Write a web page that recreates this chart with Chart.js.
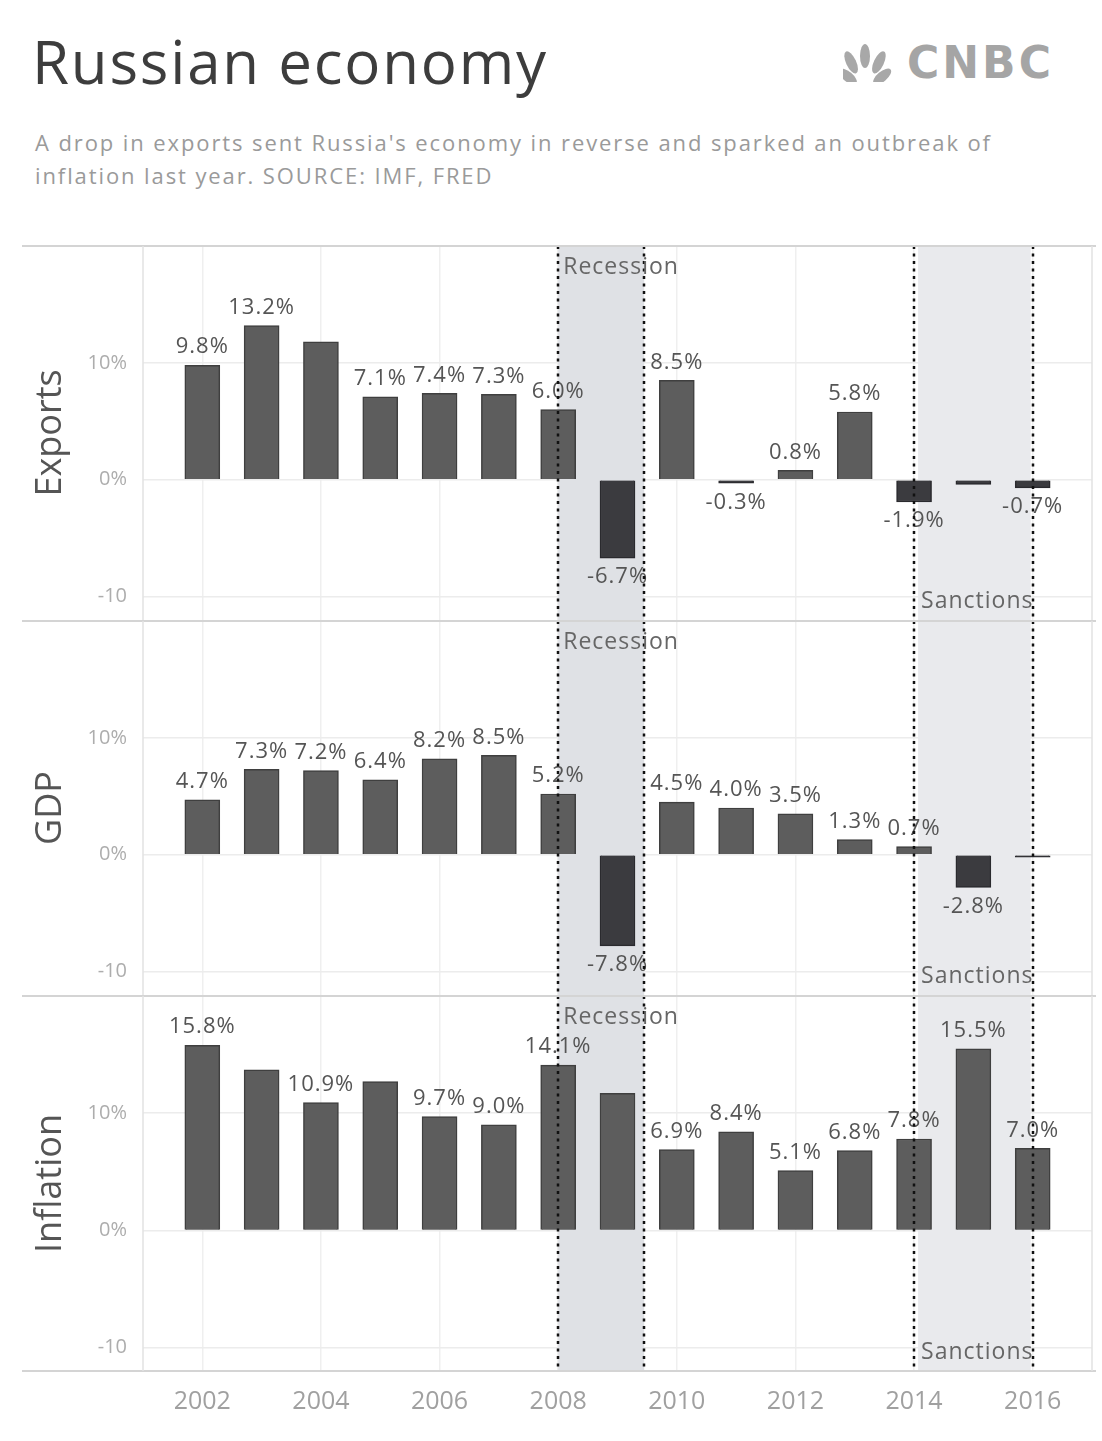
<!DOCTYPE html>
<html>
<head>
<meta charset="utf-8">
<script src="https://cdn.jsdelivr.net/npm/chart.js@4.4.0/dist/chart.umd.min.js"></script>
<style>
  body { margin: 0; background: #fff; width: 1102px; height: 1441px; position: relative; overflow: hidden; font-family: "Open Sans", sans-serif; }
  #title { position: absolute; left: 32px; top: 20px; font-size: 60px; color: #3d3d3d; letter-spacing: 1.8px; }
  #sub { position: absolute; left: 35px; top: 126px; width: 1060px; font-size: 22px; line-height: 33px; color: #9a9a9a; letter-spacing: 1.9px; white-space: nowrap; }
  #logo { position: absolute; left: 843px; top: 38px; height: 48px; display: flex; align-items: center; }
  #logo span { font-family: "DejaVu Sans", sans-serif; font-weight: bold; font-size: 44px; color: #a5a5a5; letter-spacing: 3px; margin-left: 8px; }
  canvas { position: absolute; left: 0; top: 0; }
</style>
</head>
<body>
<div id="title">Russian economy</div>
<div id="logo">
  <svg width="56" height="40" viewBox="0 0 56 40">
    <g fill="#a8a8a8">
      <ellipse cx="12" cy="22" rx="5" ry="11" transform="rotate(-50 22 36)"/>
      <ellipse cx="16" cy="16" rx="5" ry="12" transform="rotate(-25 22 36)"/>
      <ellipse cx="22" cy="14" rx="5" ry="12"/>
      <ellipse cx="28" cy="16" rx="5" ry="12" transform="rotate(25 22 36)"/>
      <ellipse cx="32" cy="22" rx="5" ry="11" transform="rotate(50 22 36)"/>
    </g>
  </svg>
  <span>CNBC</span>
</div>
<div id="sub">A drop in exports sent Russia's economy in reverse and sparked an outbreak of<br>inflation last year. SOURCE: IMF, FRED</div>

<canvas id="c1" width="1102" height="398" data-top="246"></canvas>
<canvas id="c2" width="1102" height="398" data-top="621"></canvas>
<canvas id="c3" width="1102" height="443" data-top="996"></canvas>

<script>
// 데이터 (연도별 증감률, %)
const years = [2002, 2003, 2004, 2005, 2006, 2007, 2008, 2009, 2010, 2011, 2012, 2013, 2014, 2015, 2016];
const exportsVals = [9.8, 13.2, 11.8, 7.1, 7.4, 7.3, 6.0, -6.7, 8.5, -0.3, 0.8, 5.8, -1.9, -0.4, -0.7];
const exportsLabels = ["9.8%", "13.2%", null, "7.1%", "7.4%", "7.3%", "6.0%", "-6.7%", "8.5%", "-0.3%", "0.8%", "5.8%", "-1.9%", null, "-0.7%"];
const gdpVals = [4.7, 7.3, 7.2, 6.4, 8.2, 8.5, 5.2, -7.8, 4.5, 4.0, 3.5, 1.3, 0.7, -2.8, -0.2];
const gdpLabels = ["4.7%", "7.3%", "7.2%", "6.4%", "8.2%", "8.5%", "5.2%", "-7.8%", "4.5%", "4.0%", "3.5%", "1.3%", "0.7%", "-2.8%", null];
const inflationVals = [15.8, 13.7, 10.9, 12.7, 9.7, 9.0, 14.1, 11.7, 6.9, 8.4, 5.1, 6.8, 7.8, 15.5, 7.0];
const inflationLabels = ["15.8%", null, "10.9%", null, "9.7%", "9.0%", "14.1%", null, "6.9%", "8.4%", "5.1%", "6.8%", "7.8%", "15.5%", "7.0%"];
const yTicks = [-10, 0, 10];
const xTicks = [2002, 2004, 2006, 2008, 2010, 2012, 2014, 2016];

// 음영 구간
const recession = [2008, 2009.45];
const sanctions = [2014, 2016];

// 패널 배경/선/라벨 그리는 플러그인
const panelPlugin = {
  id: 'panel',
  beforeDatasetsDraw(chart) {
    const { ctx, chartArea: a, scales: { x } } = chart;
    ctx.save();
    ctx.fillStyle = '#dfe1e5';
    ctx.fillRect(x.getPixelForValue(recession[0]), a.top, x.getPixelForValue(recession[1]) - x.getPixelForValue(recession[0]), a.bottom - a.top);
    ctx.fillStyle = '#e9eaed';
    ctx.fillRect(x.getPixelForValue(sanctions[0]) + 4, a.top, x.getPixelForValue(sanctions[1]) - x.getPixelForValue(sanctions[0]) - 6, a.bottom - a.top);
    ctx.restore();
  },
  afterDatasetsDraw(chart) {
    const { ctx, chartArea: a, scales: { x } } = chart;
    const labels = chart.options.plugins.panel.labels;
    ctx.save();
    // 막대 값 라벨
    ctx.font = '22px "Open Sans"';
    ctx.letterSpacing = '1px';
    ctx.fillStyle = '#555';
    ctx.textAlign = 'center';
    const meta = chart.getDatasetMeta(0);
    meta.data.forEach((bar, i) => {
      const txt = labels[i];
      if (!txt) return;
      const v = chart.data.datasets[0].data[i].y;
      if (v >= 0) {
        ctx.textBaseline = 'bottom';
        ctx.fillText(txt, bar.x, bar.y - 7);
      } else {
        ctx.textBaseline = 'top';
        ctx.fillText(txt, bar.x, bar.y + 8);
      }
    });
    // 점선
    ctx.strokeStyle = '#111';
    ctx.lineWidth = 2.5;
    ctx.setLineDash([3, 4.5]);
    [recession[0], recession[1], sanctions[0], sanctions[1]].forEach(v => {
      const px = Math.round(x.getPixelForValue(v));
      ctx.beginPath();
      ctx.moveTo(px, a.top);
      ctx.lineTo(px, a.bottom);
      ctx.stroke();
    });
    ctx.setLineDash([]);
    // 구간 라벨
    ctx.font = '23px "Open Sans"';
    ctx.letterSpacing = '1px';
    ctx.fillStyle = '#666';
    ctx.textAlign = 'left';
    ctx.textBaseline = 'middle';
    ctx.fillText('Recession', x.getPixelForValue(recession[0]) + 5, a.top + 21);
    ctx.fillText('Sanctions', x.getPixelForValue(sanctions[0]) + 7, a.bottom - 19);
    // 테두리
    ctx.strokeStyle = '#d4d4d4';
    ctx.lineWidth = 2;
    ctx.beginPath();
    ctx.moveTo(22, a.top);
    ctx.lineTo(a.right + 4, a.top);
    ctx.stroke();
    if (chart.options.plugins.panel.bottom) {
      ctx.beginPath();
      ctx.moveTo(22, a.bottom);
      ctx.lineTo(a.right + 4, a.bottom);
      ctx.stroke();
    }
    ctx.strokeStyle = '#e2e2e2';
    ctx.lineWidth = 1.5;
    ctx.beginPath();
    ctx.moveTo(a.left, a.top);
    ctx.lineTo(a.left, a.bottom);
    ctx.moveTo(a.right, a.top);
    ctx.lineTo(a.right, a.bottom);
    ctx.stroke();
    ctx.restore();
  }
};

function drawPanel(id, title, values, labels, isBottom) {
  const canvas = document.getElementById(id);
  const ctx = canvas.getContext('2d');
  const data = years.map((y, i) => ({ x: y, y: values[i] }));

  const chart = new Chart(ctx, {
    type: 'bar',
    data: {
      datasets: [{
        data: data,
        backgroundColor: values.map(v => v < 0 ? '#3b3b3f' : '#5d5d5d'),
        borderColor: values.map(v => v < 0 ? '#2a2a2e' : '#3f3f3f'),
        borderWidth: 1.5,
        barThickness: 35
      }]
    },
    options: {
      responsive: false,
      animation: false,
      layout: { padding: { left: 0, right: 10, top: 0, bottom: 0 } },
      plugins: {
        legend: { display: false },
        tooltip: { enabled: false },
        panel: { labels: labels, bottom: isBottom }
      },
      scales: {
        x: {
          type: 'linear',
          min: 2001,
          max: 2017,
          offset: false,
          afterBuildTicks: axis => { axis.ticks = xTicks.map(v => ({ value: v })); },
          afterFit: axis => { axis.height = isBottom ? 56 : 0; },
          grid: { color: '#efefef', lineWidth: 1.5, drawTicks: false, offset: false },
          border: { display: false },
          ticks: {
            display: isBottom,
            padding: 16,
            color: '#a0a0a0',
            font: { family: 'Open Sans', size: 25 },
            callback: v => String(v)
          }
        },
        y: {
          min: -12,
          max: 20,
          afterBuildTicks: axis => { axis.ticks = yTicks.map(v => ({ value: v })); },
          afterFit: axis => { axis.width = 143; },
          grid: { color: '#ececec', lineWidth: 1.5, drawTicks: true, tickLength: 16, tickColor: 'rgba(0,0,0,0)' },
          border: { display: false },
          ticks: {
            padding: 0,
            color: '#adadad',
            font: { family: 'Open Sans', size: 20 },
            callback: v => v === -10 ? '-10' : v + '%'
          },
          title: {
            display: true,
            text: title,
            color: '#555',
            font: { family: 'Open Sans', size: 36 },
            padding: { top: 29, bottom: 0 }
          }
        }
      }
    },
    plugins: [panelPlugin]
  });

  // 차트 영역 위쪽이 원하는 위치에 오도록 캔버스를 옮긴다
  canvas.style.top = (Number(canvas.dataset.top) - chart.chartArea.top) + 'px';
  return chart;
}

drawPanel('c1', 'Exports', exportsVals, exportsLabels, false);
drawPanel('c2', 'GDP', gdpVals, gdpLabels, false);
drawPanel('c3', 'Inflation', inflationVals, inflationLabels, true);
</script>
</body>
</html>
